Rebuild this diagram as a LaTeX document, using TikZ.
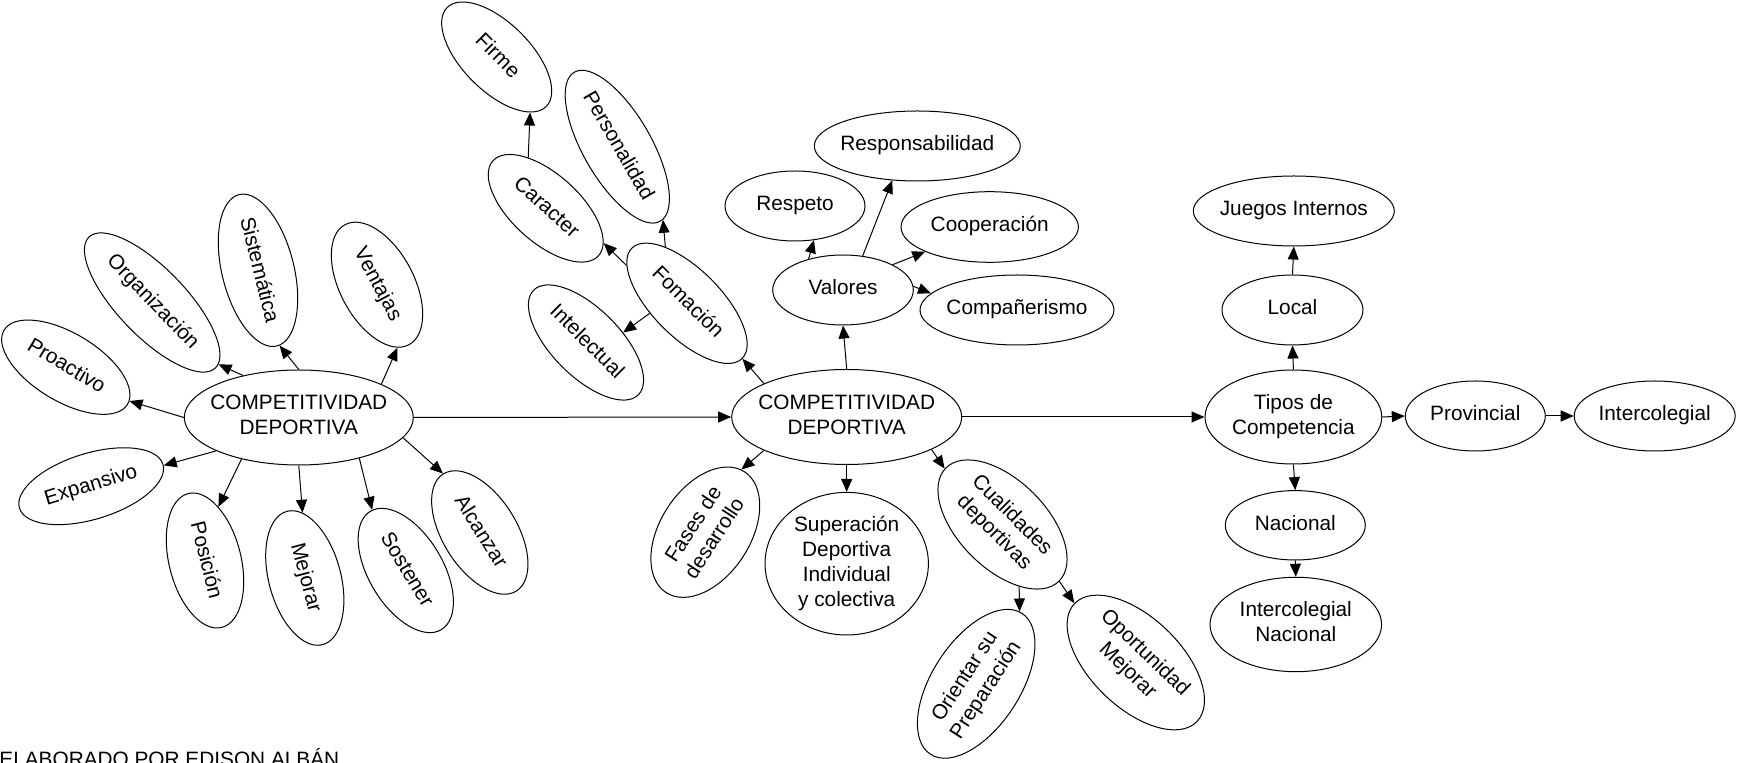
\documentclass[tikz,border=0pt]{standalone}
\usepackage{fontspec}
\setmainfont{Liberation Sans}
\usetikzlibrary{shapes.geometric,arrows.meta}
\newcommand{\nodetext}[1]{\makebox[0pt]{\begin{tabular}{@{}c@{}}#1\end{tabular}}}
\begin{document}
\begin{tikzpicture}[x=0.5pt,y=-0.5pt,
  every node/.style={font=\fontsize{10.4}{12.5}\selectfont},
  ell/.style={draw, ellipse, line width=0.5pt, inner sep=0pt},
  arr/.style={-{Triangle[length=6.5pt,width=5.5pt]}, line width=0.5pt}]
\useasboundingbox (0,0) rectangle (1737,763);
\clip (0,0) rectangle (1737,763);

% left cluster
\node[ell,minimum width=114.5pt,minimum height=47.5pt] (L) at (298.8,417.5) {\nodetext{COMPETITIVIDAD\\DEPORTIVA}};
\node[ell,minimum width=72pt,minimum height=34pt,rotate=-31] (pro) at (65.8,367.2) {\nodetext{Proactivo}};
\node[ell,minimum width=91pt,minimum height=34pt,rotate=-46] (org) at (152.2,302.5) {\nodetext{Organización}};
\node[ell,minimum width=78pt,minimum height=36pt,rotate=-76] (sis) at (258,270.3) {\nodetext{Sistemática}};
\node[ell,minimum width=68pt,minimum height=37pt,rotate=-62] (ven) at (377,284.7) {\nodetext{Ventajas}};
\node[ell,minimum width=75pt,minimum height=33pt,rotate=17] (exp) at (91.2,486.2) {\nodetext{Expansivo}};
\node[ell,minimum width=69pt,minimum height=36pt,rotate=-76] (pos) at (205,560.5) {\nodetext{Posición}};
\node[ell,minimum width=69pt,minimum height=36pt,rotate=-75] (mej) at (304.8,578) {\nodetext{Mejorar}};
\node[ell,minimum width=69pt,minimum height=37pt,rotate=-59] (sos) at (405.8,570.5) {\nodetext{Sostener}};
\node[ell,minimum width=69pt,minimum height=37pt,rotate=-58] (alc) at (479.8,532.5) {\nodetext{Alcanzar}};

% top-middle cluster
\node[ell,minimum width=70pt,minimum height=34pt,rotate=-45] (fir) at (496.7,57) {\nodetext{Firme}};
\node[ell,minimum width=71pt,minimum height=34pt,rotate=-42] (car) at (545.7,208.3) {\nodetext{Caracter}};
\node[ell,minimum width=86pt,minimum height=34pt,rotate=-60] (per) at (617.3,146.7) {\nodetext{Personalidad}};
\node[ell,minimum width=78pt,minimum height=34pt,rotate=-45] (fom) at (687,303.3) {\nodetext{Fomación}};
\node[ell,minimum width=74pt,minimum height=34pt,rotate=-45] (int) at (586,342.5) {\nodetext{Intelectual}};

% second centre
\node[ell,minimum width=115pt,minimum height=47.5pt] (C2) at (846.7,417) {\nodetext{COMPETITIVIDAD\\DEPORTIVA}};
\node[ell,minimum width=70.3pt,minimum height=35pt] (val) at (843,290) {\nodetext{Valores}};
\node[ell,minimum width=70pt,minimum height=35pt] (res) at (795,206) {\nodetext{Respeto}};
\node[ell,minimum width=103pt,minimum height=35pt] (rsp) at (917.3,146) {\nodetext{Responsabilidad}};
\node[ell,minimum width=88.7pt,minimum height=35.3pt] (coo) at (989.7,227) {\nodetext{Cooperación}};
\node[ell,minimum width=97pt,minimum height=35pt] (com) at (1017,310) {\nodetext{Compañerismo}};
\node[ell,minimum width=72pt,minimum height=45pt,rotate=57] (fas) at (705.3,532.2) {\nodetext{Fases de\\desarrollo}};
\node[ell,minimum width=81.7pt,minimum height=71.3pt] (sup) at (846.7,563.7) {\nodetext{Superación\\Deportiva\\Individual\\y colectiva}};
\node[ell,minimum width=80pt,minimum height=44pt,rotate=-45] (cua) at (1002.5,524.5) {\nodetext{Cualidades\\deportivas}};
\node[ell,minimum width=84pt,minimum height=44pt,rotate=57] (ori) at (976.2,683.8) {\nodetext{Orientar su\\Preparación}};
\node[ell,minimum width=85pt,minimum height=45pt,rotate=-44] (opo) at (1135.8,662.5) {\nodetext{Oportunidad\\Mejorar}};

% right cluster
\node[ell,minimum width=88.4pt,minimum height=47pt] (tdc) at (1293.4,417) {\nodetext{Tipos de\\Competencia}};
\node[ell,minimum width=70.5pt,minimum height=35pt] (loc) at (1292.5,310) {\nodetext{Local}};
\node[ell,minimum width=100.5pt,minimum height=35pt] (jue) at (1293.8,211) {\nodetext{Juegos Internos}};
\node[ell,minimum width=70pt,minimum height=35pt] (prv) at (1475.3,416) {\nodetext{Provincial}};
\node[ell,minimum width=80.5pt,minimum height=35pt] (icl) at (1654.7,416) {\nodetext{Intercolegial}};
\node[ell,minimum width=70pt,minimum height=34.7pt] (nac) at (1295.3,525.3) {\nodetext{Nacional}};
\node[ell,minimum width=85.8pt,minimum height=47.2pt] (icn) at (1295.8,624.5) {\nodetext{Intercolegial\\Nacional}};

\node[anchor=base west, inner sep=0pt] (foot) at (-1,766.5) {ELABORADO POR EDISON ALBÁN};

% connectors
\draw[arr] (L.180) -- (pro.3);
\draw[arr] (L.143) -- (org.3);
\draw[arr] (L.90) -- (sis.2);
\draw[arr] (L.22) -- (ven.-10);
\draw[arr] (L.202) -- (exp.-1);
\draw[arr] (L.216) -- (pos.152);
\draw[arr] (L.270) -- (mej.167);
\draw[arr] (L.326) -- (sos.178);
\draw[arr] (L.349) -- (alc.180);
\draw[arr] (L.0) -- (C2.180);
\draw[arr] (C2.202) -- (fas.3);
\draw[arr] (C2.270) -- (sup.90);
\draw[arr] (C2.339) -- (cua.181);
\draw[arr] (cua.-30) -- (ori.2);
\draw[arr] (cua.0) -- (opo.180);
\draw[arr] (C2.158) -- (fom.0);
\draw[arr] (C2.90) -- (val.270);
\draw[arr] (val.138) -- (res.299);
\draw[arr] (val.60) -- (rsp.234);
\draw[arr] (val.27) -- (coo.201);
\draw[arr] (val.3) -- (com.169);
\draw[arr] (fom.193) -- (car.11);
\draw[arr] (fom.156) -- (per.2);
\draw[arr] (fom.240) -- (int.60);
\draw[arr] (car.151) -- (fir.-14);
\draw[arr] (C2.0) -- (tdc.180);
\draw[arr] (tdc.90) -- (loc.270);
\draw[arr] (loc.90) -- (jue.270);
\draw[arr] (tdc.0) -- (prv.180);
\draw[arr] (prv.0) -- (icl.180);
\draw[arr] (tdc.270) -- (nac.90);
\draw[arr] (nac.270) -- (icn.90);
\end{tikzpicture}
\end{document}
